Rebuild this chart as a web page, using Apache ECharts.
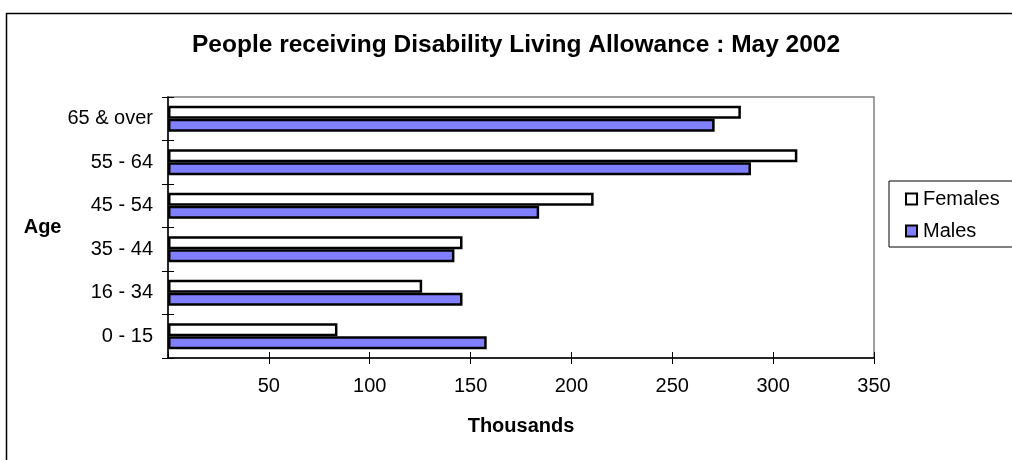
<!DOCTYPE html>
<html>
<head>
<meta charset="utf-8">
<script src="https://cdn.jsdelivr.net/npm/echarts@6/dist/echarts.min.js"></script>
<style>
html,body{margin:0;padding:0;background:#fff;}
#chart{width:1012px;height:460px;}
</style>
</head>
<body>
<div id="chart"></div>
<script>
var categories = ['0 - 15', '16 - 34', '35 - 44', '45 - 54', '55 - 64', '65 & over'];
var females = [84, 126, 146, 211, 312, 284];
var males = [158, 146, 142, 184, 289, 271];
var xTicks = [0, 50, 100, 150, 200, 250, 300, 350];

var FONT = 'Arial, "Liberation Sans", sans-serif';
var chart = echarts.init(document.getElementById('chart'), null, {renderer: 'canvas'});
chart.setOption({
  backgroundColor: '#ffffff',
  animation: false,
  title: {
    text: 'People receiving Disability Living Allowance : May 2002',
    left: 192,
    top: 33,
    padding: 0,
    textStyle: {fontFamily: FONT, fontSize: 24.5, fontWeight: 'bold', color: '#000'}
  },
  graphic: [{
    type: 'rect',
    shape: {x: 6.5, y: 13.5, width: 1200, height: 600},
    style: {fill: 'none', stroke: '#000', lineWidth: 1.5},
    silent: true, z: -10
  }],
  legend: {
    orient: 'vertical',
    left: 889,
    top: 181,
    data: ['Females', 'Males'],
    borderColor: '#000',
    borderWidth: 1,
    padding: [8, 200, 6, 16],
    itemGap: 12,
    itemWidth: 11,
    itemHeight: 11,
    icon: 'rect',
    textStyle: {fontFamily: FONT, fontSize: 20, color: '#000', padding: [0, 0, 0, 1]}
  },
  grid: {
    left: 168, right: 138, top: 97, bottom: 102,
    show: true, borderColor: '#808080', borderWidth: 1.5, backgroundColor: '#fff'
  },
  xAxis: [{
    type: 'value',
    min: xTicks[0], max: xTicks[xTicks.length - 1], interval: 50,
    name: 'Thousands',
    nameLocation: 'middle',
    nameGap: 58,
    nameTextStyle: {fontFamily: FONT, fontSize: 20, fontWeight: 'bold', color: '#000'},
    axisLine: {show: true, lineStyle: {color: '#000', width: 1.5}},
    axisTick: {show: true, inside: false, length: 6, lineStyle: {color: '#000', width: 1}},
    axisLabel: {fontFamily: FONT, fontSize: 20, color: '#000', margin: 18, showMinLabel: false},
    splitLine: {show: false}
  }, {
    type: 'value',
    min: xTicks[0], max: xTicks[xTicks.length - 1], interval: 50,
    position: 'bottom',
    axisLine: {show: false},
    axisTick: {show: true, inside: true, length: 6, lineStyle: {color: '#000', width: 1}},
    axisLabel: {show: false},
    splitLine: {show: false}
  }],
  yAxis: [{
    type: 'category',
    data: categories,
    name: 'Age',
    nameLocation: 'middle',
    nameRotate: 0,
    nameGap: 105,
    nameTextStyle: {fontFamily: FONT, fontSize: 20, fontWeight: 'bold', color: '#000', align: 'right'},
    axisLine: {show: true, lineStyle: {color: '#000', width: 1.5}},
    axisTick: {show: true, inside: false, length: 6, lineStyle: {color: '#000', width: 1}},
    axisLabel: {fontFamily: FONT, fontSize: 20, color: '#000', margin: 15}
  }, {
    type: 'category',
    data: categories,
    position: 'left',
    axisLine: {show: false},
    axisTick: {show: true, inside: true, length: 6, lineStyle: {color: '#000', width: 1}},
    axisLabel: {show: false}
  }],
  series: [{
    name: 'Females',
    type: 'bar',
    data: females,
    barGap: '0%',
    barCategoryGap: '40%',
    itemStyle: {color: '#FFFFFF', borderColor: '#000', borderWidth: 2.5}
  }, {
    name: 'Males',
    type: 'bar',
    data: males,
    barGap: '0%',
    barCategoryGap: '40%',
    itemStyle: {color: '#8080FF', borderColor: '#000', borderWidth: 2.5}
  }]
});
</script>
</body>
</html>
